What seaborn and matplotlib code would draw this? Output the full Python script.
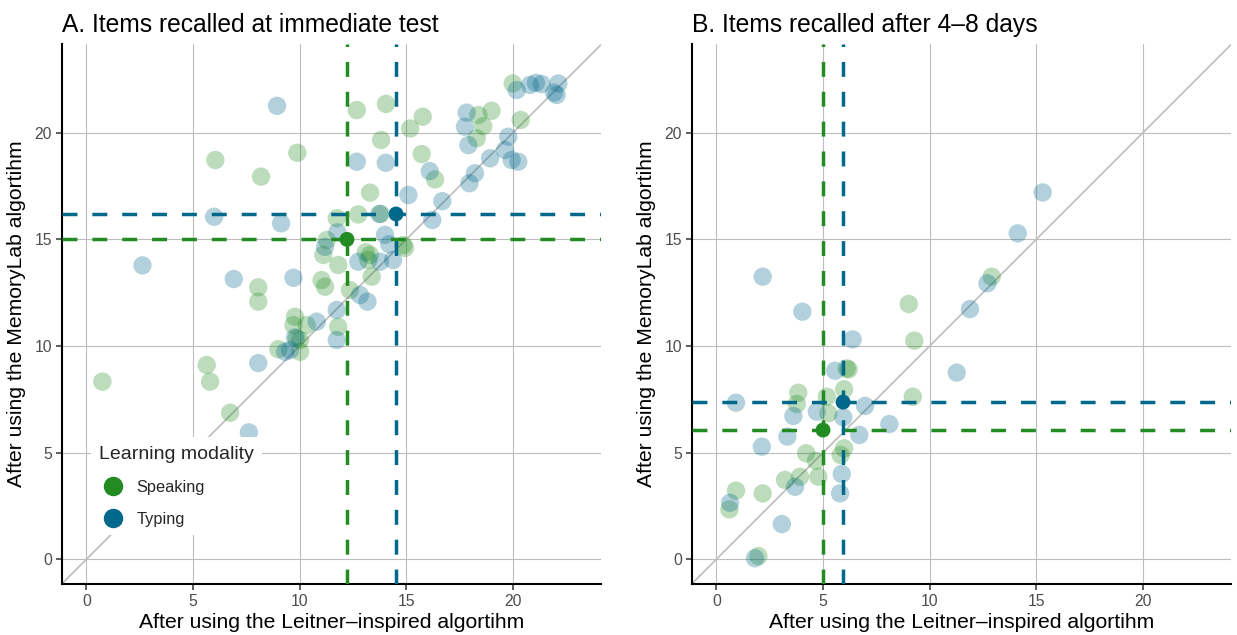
import matplotlib
matplotlib.use("Agg")
import matplotlib.pyplot as plt
from matplotlib.lines import Line2D
import seaborn as sns
import pandas as pd

# ---- data ----
modalities = ["Speaking", "Typing"]
colors = {"Speaking": "#228B22", "Typing": "#00688B"}

# panel A: immediate test
a_speak_x = [0.75, 5.64, 5.80, 6.05, 6.74, 8.06, 8.06, 8.19, 9.89, 9.00,
             9.78, 9.71, 10.33, 10.02, 10.02, 11.81, 11.03, 11.19, 11.11, 11.27,
             11.74, 11.81, 12.36, 12.75, 12.68, 13.30, 13.30, 13.22, 13.38, 13.82,
             14.05, 13.80, 14.86, 14.94, 15.18, 15.77, 15.72, 16.35, 18.38, 19.00,
             18.61, 18.30, 20.36, 19.99, 9.86, 13.10]
a_speak_y = [8.33, 9.11, 8.33, 18.72, 6.87, 12.75, 12.08, 17.94, 19.06, 9.85,
             11.37, 10.98, 10.98, 10.28, 9.73, 10.90, 13.09, 12.78, 14.27, 14.97,
             15.99, 13.80, 12.62, 16.17, 21.06, 17.19, 14.27, 14.03, 13.25, 19.66,
             21.35, 16.19, 14.73, 14.60, 20.20, 20.75, 19.00, 17.81, 20.83, 21.03,
             20.31, 19.74, 20.60, 22.31, 10.36, 14.40]
a_type_x = [2.63, 5.99, 6.91, 7.62, 8.06, 8.94, 9.13, 9.71, 9.78, 9.32,
            9.55, 10.80, 11.74, 11.74, 11.77, 11.19, 12.68, 12.75, 12.83, 13.18,
            13.74, 13.77, 14.04, 14.00, 14.20, 14.38, 15.10, 16.10, 16.22, 16.69,
            17.83, 17.75, 17.91, 17.96, 18.22, 18.93, 19.63, 19.78, 19.94, 20.25,
            20.18, 20.80, 21.08, 21.35, 22.13, 21.93, 22.05]
a_type_y = [13.78, 16.06, 13.14, 5.95, 9.20, 21.26, 15.75, 13.20, 10.40, 9.73,
            9.81, 11.14, 11.69, 10.28, 15.33, 14.65, 18.64, 13.95, 12.39, 12.08,
            16.19, 13.95, 18.59, 15.21, 14.77, 14.03, 17.08, 18.20, 15.91, 16.79,
            20.94, 20.28, 19.42, 17.63, 18.10, 18.80, 19.19, 19.81, 18.72, 18.64,
            22.00, 22.24, 22.34, 22.28, 22.31, 21.88, 21.77]
a_mean_x = [12.22, 14.52]
a_mean_y = [15.00, 16.19]

# panel B: delayed test (4-8 days)
b_speak_x = [9.02, 9.28, 12.91, 9.21, 6.11, 6.20, 5.99, 3.84, 3.77, 5.18,
             5.25, 4.21, 4.67, 5.99, 5.83, 4.78, 3.92, 3.22, 0.92, 2.17,
             0.61, 1.97]
b_speak_y = [11.97, 10.25, 13.25, 7.62, 8.95, 8.90, 7.97, 7.81, 7.28, 7.62,
             6.84, 4.97, 4.62, 5.20, 4.89, 3.87, 3.87, 3.72, 3.22, 3.09,
             2.34, 0.15]
b_type_x = [15.30, 14.13, 12.71, 11.89, 11.27, 8.11, 6.97, 6.70, 2.17, 4.03,
            6.39, 5.57, 0.92, 3.61, 4.71, 5.95, 3.33, 2.13, 5.88, 5.80,
            3.69, 0.64, 3.07, 1.81]
b_type_y = [17.20, 15.28, 12.94, 11.73, 8.75, 6.34, 7.19, 5.83, 13.25, 11.61,
            10.31, 8.84, 7.34, 6.72, 6.92, 6.66, 5.75, 5.28, 4.00, 3.09,
            3.40, 2.65, 1.65, 0.05]
b_mean_x = [5.00, 5.94]
b_mean_y = [6.06, 7.37]

ticks = [0, 5, 10, 15, 20]
lims = (-1.15, 24.15)


def make_df(sx, sy, tx, ty):
    return pd.concat([
        pd.DataFrame({"x": sx, "y": sy, "modality": "Speaking"}),
        pd.DataFrame({"x": tx, "y": ty, "modality": "Typing"}),
    ], ignore_index=True)


sns.set_style("white")
plt.rcParams["font.family"] = ["Liberation Sans", "DejaVu Sans"]

fig = plt.figure(figsize=(12.37, 6.35), dpi=100)
axA = fig.add_axes([0.0500, 0.0806, 0.4362, 0.8498])
axB = fig.add_axes([0.5593, 0.0806, 0.4362, 0.8498])

panels = [
    (axA, make_df(a_speak_x, a_speak_y, a_type_x, a_type_y), a_mean_x, a_mean_y,
     "A. Items recalled at immediate test"),
    (axB, make_df(b_speak_x, b_speak_y, b_type_x, b_type_y), b_mean_x, b_mean_y,
     "B. Items recalled after 4–8 days"),
]

for ax, df, mx, my, title in panels:
    ax.set_xlim(lims)
    ax.set_ylim(lims)
    ax.set_axisbelow(True)
    ax.grid(True, color="#bdbdbd", lw=0.8)
    ax.plot(lims, lims, color="#bdbdbd", lw=1.2, zorder=1.5)
    sns.scatterplot(data=df, x="x", y="y", hue="modality", palette=colors,
                    hue_order=modalities, s=175, alpha=0.3, linewidth=0,
                    legend=False, ax=ax, zorder=2)
    means = pd.DataFrame({"x": mx, "y": my, "modality": modalities})
    for i, m in enumerate(modalities):
        ax.axvline(mx[i], color=colors[m], lw=2.5, ls=(0, (4.3, 4.3)), zorder=3)
        ax.axhline(my[i], color=colors[m], lw=2.5, ls=(0, (4.3, 4.3)), zorder=3)
    sns.scatterplot(data=means, x="x", y="y", hue="modality", palette=colors,
                    hue_order=modalities, s=115, linewidth=0, legend=False,
                    ax=ax, zorder=4)
    ax.set_xticks(ticks)
    ax.set_yticks(ticks)
    ax.tick_params(bottom=True, left=True, direction="out", length=4, width=1.1,
                   color="#333333", labelcolor="#4d4d4d", labelsize=11.3, pad=3)
    for side in ["top", "right"]:
        ax.spines[side].set_visible(False)
    for side in ["left", "bottom"]:
        ax.spines[side].set_color("black")
        ax.spines[side].set_linewidth(1.5)
    ax.set_xlabel("After using the Leitner–inspired algortihm", fontsize=15.2,
                  color="black", labelpad=3)
    ax.set_ylabel("After using the MemoryLab algortihm", fontsize=15.2,
                  color="black", labelpad=6)
    ax.set_title(title, loc="left", fontsize=17.7, color="black", pad=9)

handles = [Line2D([], [], ls="", marker="o", ms=13, color=colors[m]) for m in modalities]
leg = axA.legend(handles, modalities, title="Learning modality", loc="lower left",
                 bbox_to_anchor=(0.038, 0.075), frameon=True, facecolor="white",
                 edgecolor="none", framealpha=1, fontsize=11.8, title_fontsize=14,
                 alignment="left", handletextpad=0.6, labelspacing=1.05,
                 borderpad=0.5, handlelength=1.7)
leg.set_zorder(5)

fig.savefig("out.png", dpi=100)
